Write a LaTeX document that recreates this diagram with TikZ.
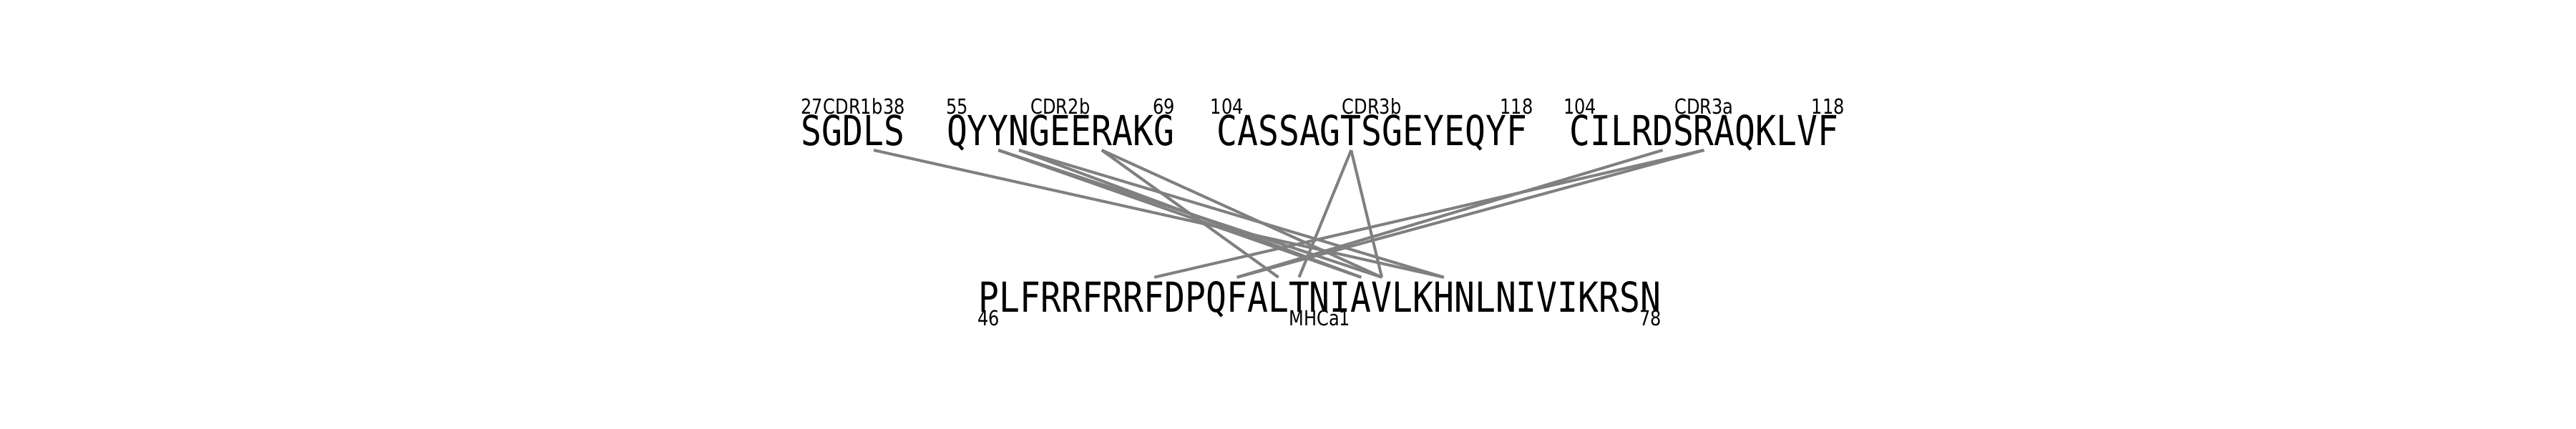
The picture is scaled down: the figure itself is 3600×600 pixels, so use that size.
\documentclass[tikz,border=0pt]{standalone}
\usepackage{fontspec}
\newfontfamily\seqfont{DejaVu Sans Mono}[FakeStretch=0.83]
\newfontfamily\lblfont{DejaVu Sans}[FakeStretch=0.83]

\definecolor{linkgray}{HTML}{808080}
\tikzset{
  res/.style={font=\seqfont\fontsize{16.46}{18}\selectfont, anchor=base, inner xsep=0pt, inner ysep=0.6mm, outer sep=0pt, text height=4.22mm, text depth=0pt},
  lbl/.style={font=\lblfont\fontsize{8.25}{9}\selectfont, anchor=base, inner sep=0pt},
  contact/.style={draw=linkgray, line width=0.4mm}
}

\begin{document}
\begin{tikzpicture}[x=0.1mm, y=-0.1mm]
	\useasboundingbox (0,0) rectangle (3600,600);
	\coordinate (toplbl) at (0,160);
	\coordinate (botlbl) at (0,455);

	% one node per residue
	\foreach \seg/\start/\base/\seq in {c1b/1119.9/204/{S,G,D,L,S},
	    c2b/1323/204/{Q,Y,Y,N,G,E,E,R,A,K,G},
	    c3b/1700.4/204/{C,A,S,S,A,G,T,S,G,E,Y,E,Q,Y,F},
	    c3a/2193.5/204/{C,I,L,R,D,S,R,A,Q,K,L,V,F},
	    m/1367.5/436/{P,L,F,R,R,F,R,R,F,D,P,Q,F,A,L,T,N,I,A,V,L,K,H,N,L,N,I,V,I,K,R,S,N}}
	  \foreach \r [count=\i] in \seq
	    \node[res] (\seg-\i) at (\start+\i*28.9-14.45, \base) {\r};

	\node[lbl] (c1b-first) at (c1b-1 |- toplbl) {27};
	\node[lbl] (c1b-name) at (c1b-3 |- toplbl) {CDR1b};
	\node[lbl] (c1b-last) at (c1b-5 |- toplbl) {38};
	\node[lbl] (c2b-first) at (c2b-1 |- toplbl) {55};
	\node[lbl] (c2b-name) at (c2b-6 |- toplbl) {CDR2b};
	\node[lbl] (c2b-last) at (c2b-11 |- toplbl) {69};
	\node[lbl] (c3b-first) at (c3b-1 |- toplbl) {104};
	\node[lbl] (c3b-name) at (c3b-8 |- toplbl) {CDR3b};
	\node[lbl] (c3b-last) at (c3b-15 |- toplbl) {118};
	\node[lbl] (c3a-first) at (c3a-1 |- toplbl) {104};
	\node[lbl] (c3a-name) at (c3a-7 |- toplbl) {CDR3a};
	\node[lbl] (c3a-last) at (c3a-13 |- toplbl) {118};
	\node[lbl] (m-first) at (m-1 |- botlbl) {46};
	\node[lbl] (m-name) at (m-17 |- botlbl) {MHCa1};
	\node[lbl] (m-last) at (m-33 |- botlbl) {78};

	% contacts
	\path
	(c1b-4.south) edge[contact] (m-23.north)
	(c2b-3.south) edge[contact] (m-19.north)
	(c2b-3.south) edge[contact] (m-20.north)
	(c2b-4.south) edge[contact] (m-19.north)
	(c2b-4.south) edge[contact] (m-23.north)
	(c2b-8.south) edge[contact] (m-15.north)
	(c2b-8.south) edge[contact] (m-20.north)
	(c3b-7.south) edge[contact] (m-16.north)
	(c3b-7.south) edge[contact] (m-20.north)
	(c3a-5.south) edge[contact] (m-13.north)
	(c3a-7.south) edge[contact] (m-9.north)
	(c3a-7.south) edge[contact] (m-13.north);
\end{tikzpicture}
\end{document}
